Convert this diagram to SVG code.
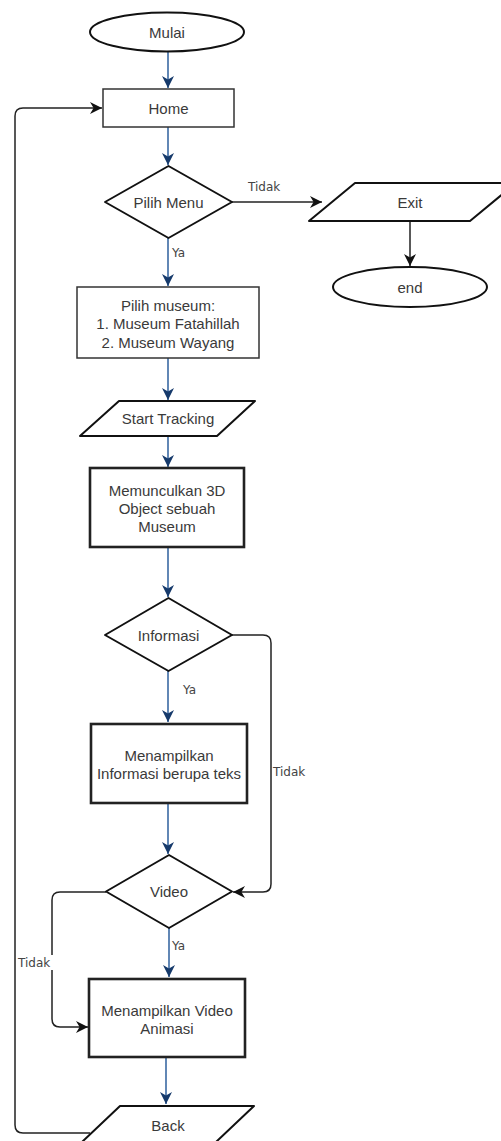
<svg xmlns="http://www.w3.org/2000/svg" width="501" height="1141" viewBox="0 0 501 1141">
<style>
.t{font-family:"Liberation Sans",Arial,sans-serif;font-size:15px;fill:#3a3a3a;text-anchor:middle;dominant-baseline:central}
.l{font-family:"DejaVu Sans",Verdana,sans-serif;font-size:12px;fill:#444}
.s{fill:#fff;stroke:#111;stroke-width:2;stroke-linejoin:round}
.r1{fill:#fff;stroke:#333;stroke-width:1.5}
.r2{fill:#fff;stroke:#222;stroke-width:2.6}
.b{fill:none;stroke:#3a69a3;stroke-width:1.6}
.k{fill:none;stroke:#222;stroke-width:1.5}
</style>
<defs>
<marker id="ab" markerUnits="userSpaceOnUse" markerWidth="12" markerHeight="12" refX="10" refY="5" orient="auto" viewBox="0 0 10 10">
<path d="M0,0 L10,5 L0,10 L3,5 z" fill="#163a6b"/>
</marker>
<marker id="ak" markerUnits="userSpaceOnUse" markerWidth="12" markerHeight="12" refX="10" refY="5" orient="auto" viewBox="0 0 10 10">
<path d="M0,0 L10,5 L0,10 L3,5 z" fill="#111"/>
</marker>
</defs>
<g id="connectors">
<line class="b" x1="168" y1="52" x2="168" y2="88" marker-end="url(#ab)"/>
<line class="b" x1="168" y1="127" x2="168" y2="165" marker-end="url(#ab)"/>
<line class="b" x1="168" y1="238" x2="168" y2="286" marker-end="url(#ab)"/>
<line class="b" x1="168" y1="358" x2="168" y2="400" marker-end="url(#ab)"/>
<line class="b" x1="168" y1="436" x2="168" y2="467" marker-end="url(#ab)"/>
<line class="b" x1="168" y1="547" x2="168" y2="597" marker-end="url(#ab)"/>
<line class="b" x1="168" y1="671" x2="168" y2="722" marker-end="url(#ab)"/>
<line class="b" x1="168" y1="803" x2="168" y2="854" marker-end="url(#ab)"/>
<line class="b" x1="169" y1="928" x2="169" y2="977" marker-end="url(#ab)"/>
<line class="b" x1="166" y1="1057" x2="166" y2="1104" marker-end="url(#ab)"/>
<line class="k" x1="232" y1="202" x2="322" y2="202" marker-end="url(#ak)"/>
<line class="k" x1="410" y1="221" x2="410" y2="266" marker-end="url(#ak)"/>
<path class="k" d="M232,635 H263 Q271,635 271,643 V884 Q271,892 263,892 H233" marker-end="url(#ak)"/>
<path class="k" d="M106,892 H60 Q52,892 52,900 V1019 Q52,1027 60,1027 H88" marker-end="url(#ak)"/>
<path class="k" d="M90,1133 H23 Q15,1133 15,1125 V116 Q15,108 23,108 H102" marker-end="url(#ak)"/>
<text class="l" x="248" y="191">Tidak</text>
<text class="l" x="172" y="257">Ya</text>
<text class="l" x="183" y="694">Ya</text>
<rect x="272" y="764" width="36" height="15" fill="#fff"/>
<text class="l" x="273" y="776">Tidak</text>
<text class="l" x="172" y="950">Ya</text>
<rect x="18" y="955" width="36" height="15" fill="#fff"/>
<text class="l" x="18" y="967">Tidak</text>
</g>
<g id="mulai"><ellipse class="s" cx="167" cy="32" rx="77" ry="19.5"/><text class="t" x="167" y="32">Mulai</text></g>
<g id="home"><rect class="r1" x="103" y="89" width="131" height="38"/><text class="t" x="168.5" y="108">Home</text></g>
<g id="pilih-menu"><polygon class="s" points="168.5,166 232,202 168.5,238 105,202"/><text class="t" x="168.5" y="202">Pilih Menu</text></g>
<g id="exit"><polygon class="s" points="355,183 516,183 470,221 309,221"/><text class="t" x="410" y="202">Exit</text></g>
<g id="end"><ellipse class="s" cx="410" cy="287" rx="77" ry="20"/><text class="t" x="410" y="287">end</text></g>
<g id="pilih-museum"><rect class="r1" x="77" y="287" width="182" height="71"/>
<text class="t" x="168" y="305">Pilih museum:</text><text class="t" x="168" y="323.5">1. Museum Fatahillah</text><text class="t" x="168" y="342">2. Museum Wayang</text></g>
<g id="start-tracking"><polygon class="s" points="119,401 255,401 217,436 80,436"/><text class="t" x="168" y="418.5">Start Tracking</text></g>
<g id="memunculkan"><rect class="r2" x="90" y="468" width="154" height="79"/>
<text class="t" x="167" y="490">Memunculkan 3D</text><text class="t" x="167" y="508">Object sebuah</text><text class="t" x="167" y="526">Museum</text></g>
<g id="informasi"><polygon class="s" points="168.5,598 232,635 168.5,671 105,635"/><text class="t" x="168.5" y="635">Informasi</text></g>
<g id="menampilkan-informasi"><rect class="r2" x="91" y="724" width="156" height="79"/>
<text class="t" x="169" y="755">Menampilkan</text><text class="t" x="169" y="773">Informasi berupa teks</text></g>
<g id="video"><polygon class="s" points="169,855 232,891.5 169,928 106,891.5"/><text class="t" x="169" y="891.5">Video</text></g>
<g id="menampilkan-video"><rect class="r2" x="89" y="979" width="156" height="78"/>
<text class="t" x="167" y="1010">Menampilkan Video</text><text class="t" x="167" y="1028">Animasi</text></g>
<g id="back"><polygon class="s" points="120,1106 254,1106 216,1142 82,1142"/><text class="t" x="168" y="1125">Back</text></g>
</svg>
